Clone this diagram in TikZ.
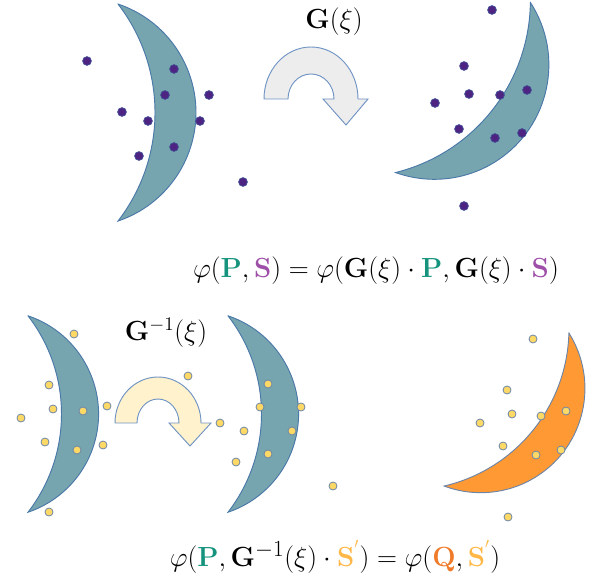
\documentclass[tikz,border=0pt]{standalone}
\usepackage{amsmath}
\usepackage{xcolor}
\definecolor{cresc}{HTML}{76A5AF}
\definecolor{cresline}{HTML}{4A78A8}
\definecolor{orangec}{HTML}{FF9933}
\definecolor{purpdot}{HTML}{4E2483}
\definecolor{purpline}{HTML}{3E4F95}
\definecolor{yeldot}{HTML}{FFD966}
\definecolor{yelline}{HTML}{6D86A8}
\definecolor{arrline}{HTML}{7094C4}
\definecolor{grayarr}{HTML}{EDEDED}
\definecolor{yelarr}{HTML}{FFF2CC}
\definecolor{colP}{HTML}{16937D}
\definecolor{colS}{HTML}{9E4FA8}
\definecolor{colQ}{HTML}{F07B2A}
\definecolor{colSp}{HTML}{FFB847}
\tikzset{
  crescent/.pic={
    \draw[pic actions] (0,-108.5) arc[start angle=-71.4, end angle=71.4, radius=114.5]
      arc[start angle=37.66, end angle=-37.66, radius=177.6] -- cycle;
  },
  crestyle/.style={fill=cresc, draw=cresline, line width=0.7pt},
  orangestyle/.style={fill=orangec, draw=yelline, line width=0.7pt},
  pdot/.style={fill=purpdot, draw=purpline, line width=0.5pt},
  ydot/.style={fill=yeldot, draw=yelline, line width=0.6pt},
  uarrow/.style={draw=arrline, line width=0.7pt, line join=miter},
  eqlabel/.style={inner sep=0pt, font=\fontsize{22.7}{27}\selectfont},
  glab/.style={inner sep=0pt, font=\fontsize{21.5}{26}\selectfont}
}
\begin{document}
\begin{tikzpicture}[x=0.75pt,y=-0.75pt]
\useasboundingbox (0,0) rectangle (602,584);
% top row crescents
\pic[crestyle] at (118,112.5) {crescent};
\pic[crestyle, rotate=-38.4] at (463,87.5) {crescent};
% top dots
\foreach \p in {(87,61),(174,69),(165,95),(209,95),(122,112),(148,121),(200,121),(174,147),(139,156),(243,182),
  (492,10),(464,66),(469,94),(500,95),(527,90),(435,103),(459,129),(495,138),(522,133),(464,206)}
  \draw[pdot] \p circle[radius=4.4];
% top arrow
\draw[uarrow, fill=grayarr] (264,99) arc[start angle=180, end angle=360, x radius=47, y radius=52]
  -- (368,99) -- (346,125) -- (323,99) -- (334,99)
  arc[start angle=0, end angle=-180, x radius=23, y radius=25] -- cycle;
\node[glab] (glabel) at (334,22) {$\mathbf{G}(\xi)$};
% equation 1
\node[eqlabel] (eq1) at (376,271) {$\varphi(\textcolor{colP}{\mathbf{P}},\textcolor{colS}{\mathbf{S}})=\varphi(\mathbf{G}(\xi)\cdot\textcolor{colP}{\mathbf{P}},\mathbf{G}(\xi)\cdot\textcolor{colS}{\mathbf{S}})$};
% bottom row crescents
\pic[crestyle, scale=0.905] at (28,414) {crescent};
\pic[crestyle, scale=0.905] at (228,414) {crescent};
\pic[orangestyle, rotate=-39.2, scale=0.91] at (506.5,409.5) {crescent};
% bottom arrow
\draw[uarrow, fill=yelarr] (115,423) arc[start angle=180, end angle=360, x radius=43, y radius=46]
  -- (211,423) -- (190,446) -- (169,423) -- (179,423)
  arc[start angle=0, end angle=-180, x radius=21, y radius=24] -- cycle;
\node[glab] (ginvlabel) at (166,333) {$\mathbf{G}^{-1}(\xi)$};
% bottom dots
\foreach \p in {(74,334),(49,385),(53,409),(21,418),(83,411),(107,406),(45,442),(77,450),(103,445),(49,512),
  (188,376),(220,423),(268,384),(260,407),(301,407),(244,431),(292,431),(268,454),(236,462),(333,486),
  (533,339),(507,390),(512,414),(541,416),(566,411),(480,423),(503,446),(536,455),(561,450),(508,517)}
  \draw[ydot] \p circle[radius=4];
% equation 2
\node[eqlabel] (eq2) at (335,557) {$\varphi(\textcolor{colP}{\mathbf{P}},\mathbf{G}^{-1}(\xi)\cdot\textcolor{colSp}{\mathbf{S}^{'}})=\varphi(\textcolor{colQ}{\mathbf{Q}},\textcolor{colSp}{\mathbf{S}^{'}})$};
\end{tikzpicture}
\end{document}
